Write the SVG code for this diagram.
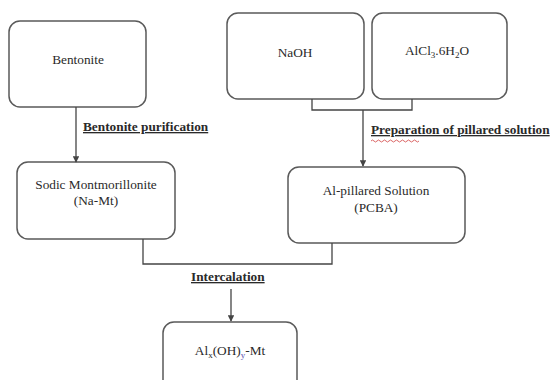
<svg xmlns="http://www.w3.org/2000/svg" width="552" height="380" viewBox="0 0 552 380">
<defs>
<style>
.box{fill:#fff;stroke:#5a5a5a;stroke-width:1.5}
.t{font-family:"Liberation Serif","Times New Roman",serif;font-size:13.3px;fill:#2a2a2a;text-anchor:middle}
.lbl{font-family:"Liberation Serif","Times New Roman",serif;font-size:13.3px;font-weight:bold;fill:#2a2a2a;text-decoration:underline}
.ln{fill:none;stroke:#444;stroke-width:1.3}
</style>
<marker id="ah" viewBox="0 0 8 8" refX="7" refY="4" markerWidth="5" markerHeight="5" orient="auto">
<path d="M0,0 L8,4 L0,8 Z" fill="#444"/>
</marker>
</defs>
<rect width="552" height="380" fill="#fff"/>
<g id="bentonite">
<rect class="box" x="9" y="21" width="137" height="86" rx="11"/>
<text class="t" x="78" y="64">Bentonite</text>
</g>
<g id="naoh">
<rect class="box" x="227" y="13" width="137" height="86" rx="11"/>
<text class="t" x="295" y="57">NaOH</text>
</g>
<g id="alcl3">
<rect class="box" x="372" y="13" width="135" height="86" rx="11"/>
<text class="t" x="437" y="55">AlCl<tspan font-size="9" dy="3">3</tspan><tspan dy="-3">.6H</tspan><tspan font-size="9" dy="3">2</tspan><tspan dy="-3">O</tspan></text>
</g>
<g id="sodic">
<rect class="box" x="17" y="162" width="158" height="77" rx="11"/>
<text class="t" x="96" y="189">Sodic Montmorillonite</text>
<text class="t" x="96" y="205">(Na-Mt)</text>
</g>
<g id="alpillared">
<rect class="box" x="288" y="167" width="177" height="76" rx="11"/>
<text class="t" x="376" y="195">Al-pillared Solution</text>
<text class="t" x="376" y="212">(PCBA)</text>
</g>
<g id="product">
<rect class="box" x="163" y="322" width="134" height="80" rx="11"/>
<text class="t" x="230" y="355">Al<tspan font-size="9" dy="3">x</tspan><tspan dy="-3">(OH)</tspan><tspan font-size="9" dy="3" fill="#5a4fb0">y</tspan><tspan dy="-3">-Mt</tspan></text>
</g>
<g id="connectors">
<path class="ln" d="M76,107 V162" marker-end="url(#ah)"/>
<path class="ln" d="M312,99 V110 H412 V99"/>
<path class="ln" d="M363,110 V166" marker-end="url(#ah)"/>
<path class="ln" d="M143,239 V264 H332 V243"/>
<path class="ln" d="M231,289 V321" marker-end="url(#ah)"/>
</g>
<g id="labels">
<text class="lbl" x="83" y="131">Bentonite purification</text>
<text class="lbl" x="371" y="134">Preparation of pillared solution</text>
<path d="M371,141 q1.5,-2 3,0 t3,0 t3,0 t3,0 t3,0 t3,0 t3,0 t3,0 t3,0 t3,0 t3,0 t3,0 t3,0 t3,0 t3,0 t3,0" fill="none" stroke="#d04040" stroke-width="0.8"/>
<text class="lbl" x="191" y="281">Intercalation</text>
</g>
</svg>
